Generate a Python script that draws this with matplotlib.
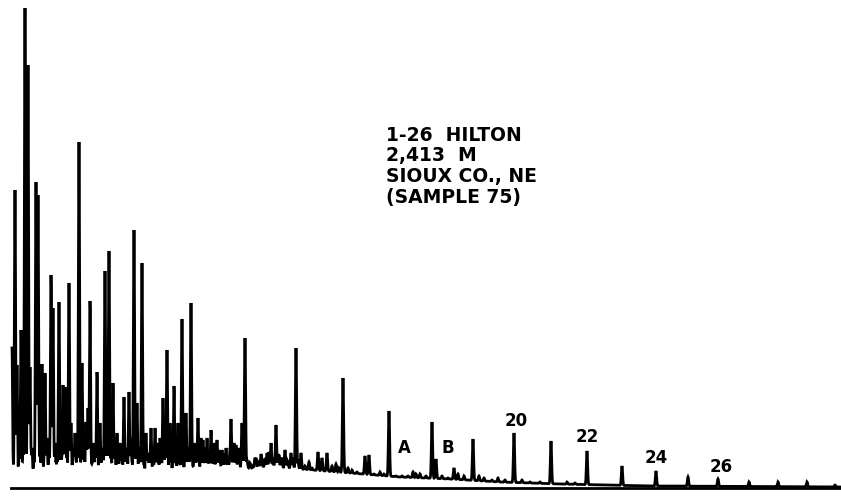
import numpy as np
import matplotlib
matplotlib.use("Agg")
import matplotlib.pyplot as plt

# Chromatogram of saturated hydrocarbons, 1-26 Hilton well
# retention position (chart units) and apex response of the resolved peaks
peak_pos = [12, 15, 17, 21, 25, 28, 30, 36, 38, 42, 45, 51, 53, 59, 63, 65, 69,
            79, 82, 86, 90, 97, 105, 109, 113, 124, 129, 134, 142, 151, 155,
            163, 167, 174, 182, 191, 198, 211, 217, 231, 236, 242, 245, 267,
            276, 279, 285, 296, 301, 318, 327, 343, 365, 369, 389, 432, 436,
            454, 473, 514, 551, 587, 622, 656, 688, 718, 749, 778, 807, 835]
peak_resp = [140, 298, 123, 158, 480, 423, 121, 306, 293, 124, 115, 213, 180,
             186, 103, 101, 205, 346, 125, 66, 187, 116, 217, 237, 105, 91, 96,
             258, 225, 60, 60, 90, 138, 102, 169, 185, 70, 58, 48, 69, 43, 65,
             150, 35, 63, 33, 38, 140, 35, 36, 35, 110, 32, 33, 77, 66, 29, 20,
             49, 55, 47, 37, 22, 17, 11, 9, 6, 6, 6, 3]

# smaller peaks riding on the baseline
minor_pos = [13, 19, 23, 27, 32, 34, 40, 47, 49, 55, 57, 61, 67, 71, 73, 75, 77,
             84, 88, 93, 95, 100, 102, 107, 111, 115, 117, 120, 122, 127, 131,
             137, 139, 146, 148, 158, 160, 165, 170, 178, 186, 188, 195, 201,
             203, 205, 207, 209, 214, 220, 222, 226, 228, 234, 239, 250, 253,
             256, 259, 262, 264, 271, 273, 282, 288, 291, 305, 309, 312, 322,
             332, 336, 339, 348, 352, 357, 374, 380, 384, 396, 402, 408, 413,
             416, 420, 426, 442, 448, 458, 464, 479, 484, 492, 498, 505, 522,
             530, 540, 567, 575]
minor_resp = [30, 45, 40, 35, 40, 30, 38, 50, 35, 45, 30, 40, 35, 65, 40, 55, 35,
              40, 80, 45, 35, 65, 40, 45, 35, 50, 55, 45, 35, 40, 50, 85, 40, 55,
              35, 45, 50, 40, 65, 65, 75, 40, 45, 50, 48, 40, 50, 35, 45, 30, 38,
              40, 30, 45, 40, 25, 22, 30, 25, 28, 22, 45, 30, 30, 25, 35, 22, 26,
              20, 30, 22, 24, 20, 20, 18, 16, 14, 16, 14, 12, 12, 12, 16, 14, 14,
              12, 12, 10, 14, 12, 12, 10, 8, 10, 8, 8, 6, 6, 6, 5]

# unresolved "grass" in the light end
grass_pos = [14, 18, 20, 24, 26, 29, 31, 33, 35, 37,
             39, 41, 44, 46, 48, 50, 52, 54, 56, 58,
             60, 62, 64, 66, 68, 70, 72, 74, 76, 78,
             80, 81, 83, 85, 87, 89, 91, 92, 94, 96,
             98, 99, 101, 103, 104, 106, 108, 110, 112, 114,
             116, 118, 119, 121, 123, 125, 126, 128, 130, 132,
             133, 135, 136, 138, 140, 141, 143, 144, 145, 147,
             149, 150, 152, 153, 154, 156, 157, 159, 161, 162,
             164, 166, 168, 169, 171, 172, 173, 175, 176, 177,
             179, 180, 181, 183, 184, 185, 187, 189, 190, 192,
             193, 194, 196, 197, 199, 212, 216, 219, 224, 230,
             233, 238, 244, 247, 255, 258, 261, 265, 269, 275,
             278, 281, 287, 293, 298]
grass_resp = [28, 22, 35, 18, 30, 25, 40, 20, 32, 26,
              38, 19, 29, 34, 24, 42, 21, 31, 27, 36,
              23, 33, 20, 39, 26, 30, 22, 37, 28, 24,
              35, 20, 31, 27, 40, 22, 33, 25, 29, 36,
              21, 30, 26, 38, 23, 32, 19, 34, 27, 30,
              22, 36, 25, 31, 20, 35, 28, 24, 33, 26,
              30, 21, 37, 25, 29, 23, 34, 27, 20, 31,
              26, 35, 22, 30, 24, 33, 28, 21, 36, 25,
              29, 32, 23, 27, 34, 20, 30, 26, 31, 22,
              35, 24, 28, 30, 21, 33, 25, 29, 27, 32,
              22, 30, 26, 34, 28, 36, 32, 38, 34, 40,
              35, 30, 38, 28, 30, 26, 34, 30, 36, 32,
              34, 30, 28, 30, 26]

# baseline drift
base_pos = [12, 40, 100, 150, 200, 250, 300, 350, 400, 450, 500, 560, 650, 750, 840]
base_resp = [4, 10, 12, 14, 17, 20, 19, 15, 11, 9, 6, 4, 2, 1.5, 1]

peak_labels = ["A", "B", "20", "22", "24", "26"]
label_pos = [404, 448, 516, 587, 656, 721]
label_resp = [40, 40, 67, 51, 30, 21]

sample_text = "1-26  HILTON\n2,413  M\nSIOUX CO., NE\n(SAMPLE 75)"

t = np.arange(12, 840, 0.2)
baseline = np.interp(t, base_pos, base_resp)
sigma = 0.6

all_peaks = (list(zip(peak_pos, peak_resp)) + list(zip(minor_pos, minor_resp))
             + list(zip(grass_pos, grass_resp)))
trace = np.zeros_like(t)
for pos, resp in all_peaks:
    amp = resp - np.interp(pos, base_pos, base_resp)
    trace = np.maximum(trace, amp * np.exp(-0.5 * ((t - pos) / sigma) ** 2))
trace = baseline + trace

fig = plt.figure(figsize=(8.41, 4.96), dpi=100)
ax = fig.add_axes([0, 0, 1, 1])
ax.set_xlim(0, 841)
ax.set_ylim(-8, 488)
ax.axis("off")

ax.plot(t, trace, color="black", lw=2.0, solid_joinstyle="miter")
ax.plot([11, 840], [0, 0], color="black", lw=2.0)

for lab, x, y in zip(peak_labels, label_pos, label_resp):
    ax.text(x, y, lab, ha="center", va="center", fontsize=12,
            fontweight="bold", family="DejaVu Sans")

ax.text(386, 362, sample_text, ha="left", va="top", fontsize=13.5,
        fontweight="bold", family="DejaVu Sans", linespacing=1.1)

fig.savefig("out.png", dpi=100, facecolor="white")
